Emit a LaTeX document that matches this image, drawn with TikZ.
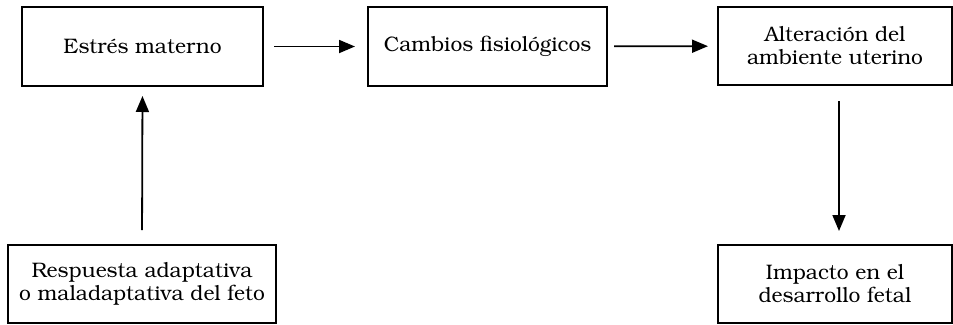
\documentclass[tikz,border=0pt]{standalone}
\usepackage[T1]{fontenc}
\usepackage{bookman}
\usetikzlibrary{arrows.meta}
\begin{document}
\begin{tikzpicture}[x=1pt,y=-1pt,
  box/.style={draw, line width=2pt, inner sep=0pt, align=center,
    font=\fontsize{21}{23}\selectfont},
  arr/.style={-{Triangle[length=16pt,width=13pt]}, line width=1.8pt}]
\useasboundingbox (0,0) rectangle (953,324);
\node[box, minimum width=241pt, minimum height=79pt] (b1) at (142.5,46.5) {Estrés materno};
\node[box, minimum width=239pt, minimum height=79pt] (b2) at (487.5,46.5) {Cambios fisiológicos};
\node[box, minimum width=234pt, minimum height=78pt] (b3) at (835,46) {Alteración del\\ambiente uterino};
\node[box, minimum width=234pt, minimum height=78pt] (b4) at (835,284) {Impacto en el\\desarrollo fetal};
\node[box, minimum width=268pt, minimum height=78pt] (b5) at (142,284) {Respuesta adaptativa\\o maladaptativa del feto};
\draw[arr, shorten <=10pt, shorten >=12pt] (b1) -- (b2);
\draw[arr, shorten <=6pt, shorten >=9pt] (b2) -- (b3);
\draw[arr, shorten <=15pt, shorten >=13pt] ([xshift=4pt]b3.south) -- ([xshift=4pt]b4.north);
\draw[arr, shorten <=14pt, shorten >=9pt] (b5.north) -- (b1.south);
\end{tikzpicture}
\end{document}
